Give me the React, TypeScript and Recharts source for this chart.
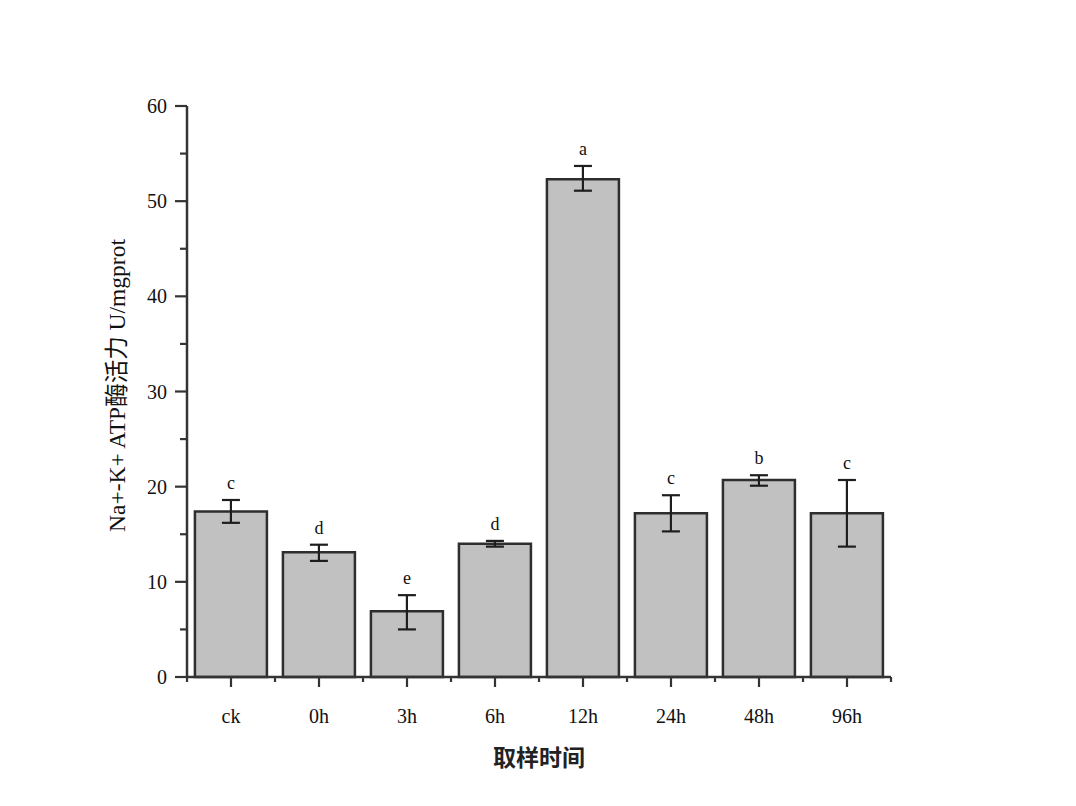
import { Bar, BarChart, ErrorBar, LabelList, XAxis, YAxis } from "recharts";

const categories = ["ck", "0h", "3h", "6h", "12h", "24h", "48h", "96h"];
const activity = [17.4, 13.1, 6.9, 14.0, 52.3, 17.2, 20.7, 17.2];
const errLow = [1.2, 0.9, 1.9, 0.3, 1.2, 1.9, 0.6, 3.5];
const errHigh = [1.2, 0.8, 1.7, 0.3, 1.4, 1.9, 0.5, 3.5];
const letters = ["c", "d", "e", "d", "a", "c", "b", "c"];
const yTicks = [0, 5, 10, 15, 20, 25, 30, 35, 40, 45, 50, 55, 60];

const CHART_W = 1076;
const CHART_H = 806;
const MARGIN = { top: 106, right: 185, bottom: 128, left: 107 };
const YAXIS_W = 80;
const BAND = (CHART_W - MARGIN.left - MARGIN.right - YAXIS_W) / categories.length;

const AXIS = "#343434";
const SERIF = "'Liberation Serif', 'Times New Roman', 'Noto Sans CJK SC', serif";

const data = categories.map((name, i) => ({
  name,
  value: activity[i],
  err: [errLow[i], errHigh[i]],
  letter: letters[i]
}));

function YTick({ x, y, payload }: any) {
  const major = payload.value % 10 === 0;
  return (
    <g>
      <line x1={x - (major ? 12 : 7)} y1={y} x2={x} y2={y} stroke={AXIS} strokeWidth={2.2} />
      {major && (
        <text x={x - 20} y={y + 7} textAnchor="end" fontFamily={SERIF} fontSize={20} fill="#111">
          {payload.value}
        </text>
      )}
    </g>
  );
}

function XTick({ x, y, payload, index }: any) {
  return (
    <g>
      <line x1={x} y1={y} x2={x} y2={y + 10} stroke={AXIS} strokeWidth={2.2} />
      <line x1={x + BAND / 2} y1={y} x2={x + BAND / 2} y2={y + 5} stroke={AXIS} strokeWidth={2.2} />
      {index === 0 && (
        <line x1={x - BAND / 2} y1={y} x2={x - BAND / 2} y2={y + 5} stroke={AXIS} strokeWidth={2.2} />
      )}
      <text x={x} y={y + 46} textAnchor="middle" fontFamily={SERIF} fontSize={20} fill="#111">
        {payload.value}
      </text>
    </g>
  );
}

function LetterLabel({ x, y, width, height, index }: any) {
  const topY = y - (errHigh[index] / activity[index]) * height;
  return (
    <text x={x + width / 2} y={topY - 11} textAnchor="middle" fontFamily={SERIF} fontSize={18} fill="#111">
      {letters[index]}
    </text>
  );
}

export default function App() {
  return (
    <div style={{ position: "absolute", left: 0, top: 0, background: "#fff" }}>
      <BarChart width={CHART_W} height={CHART_H} data={data} margin={MARGIN} barCategoryGap="9%">
        <XAxis
          dataKey="name"
          height={1}
          axisLine={{ stroke: AXIS, strokeWidth: 2.5 }}
          tickLine={false}
          tickSize={0}
          tickMargin={0}
          tick={<XTick />}
          interval={0}
          label={{
            content: ({ viewBox }: any) => (
              <text
                x={viewBox.x + viewBox.width / 2}
                y={viewBox.y + 89}
                textAnchor="middle"
                fontFamily="'Noto Sans CJK SC', sans-serif"
                fontWeight="bold"
                fontSize={23}
                fill="#222"
              >
                取样时间
              </text>
            )
          }}
        />
        <YAxis
          width={YAXIS_W}
          domain={[0, 60]}
          ticks={yTicks}
          interval={0}
          axisLine={{ stroke: AXIS, strokeWidth: 2.5 }}
          tickLine={false}
          tickSize={0}
          tickMargin={0}
          tick={<YTick />}
          label={{
            content: ({ viewBox }: any) => {
              const cx = viewBox.x + 18;
              const cy = viewBox.y + viewBox.height / 2 - 6;
              return (
                <text
                  x={cx}
                  y={cy}
                  transform={`rotate(-90, ${cx}, ${cy})`}
                  textAnchor="middle"
                  fontFamily={SERIF}
                  fontSize={23.5}
                  fill="#111"
                >
                  Na+-K+ ATP酶活力 U/mgprot
                </text>
              );
            }
          }}
        />
        <Bar dataKey="value" fill="#c1c1c1" stroke="#2e2e2e" strokeWidth={2.5} isAnimationActive={false}>
          <ErrorBar dataKey="err" direction="y" width={9} stroke="#1e1e1e" strokeWidth={2.2} />
          <LabelList dataKey="letter" content={<LetterLabel />} />
        </Bar>
      </BarChart>
    </div>
  );
}
